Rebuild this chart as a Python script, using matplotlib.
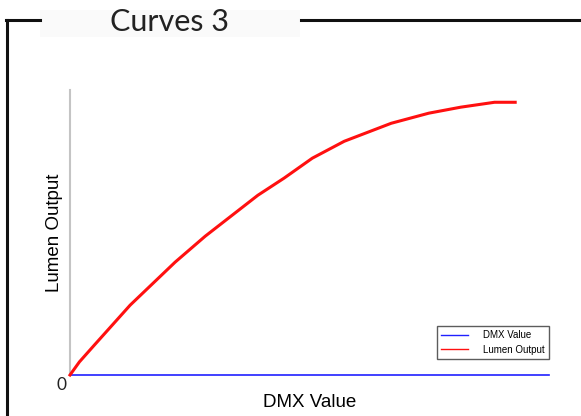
import matplotlib
matplotlib.use("Agg")
import matplotlib.pyplot as plt
from matplotlib.patches import Rectangle
from matplotlib.lines import Line2D

# data (DMX 0-255, lumen output in %)
dmx_axis = [0, 255]
dmx_line = [0, 0]
lumen_x = [0, 5, 13, 32, 56, 72, 100, 114, 129, 146, 171, 191, 208, 226, 237]
lumen_y = [0, 4.8, 11, 25.6, 41.4, 50.9, 65.9, 72.2, 79.5, 85.7, 92.3, 96, 98.2, 100, 100]

title = "Curves 3"

fig = plt.figure(figsize=(5.81, 4.16), dpi=100)
W, H = 581, 416

def fx(px): return px / W
def fy(py): return 1 - py / H

# frame around the slide
fig.add_artist(Line2D([fx(7), fx(7)], [fy(20), fy(420)], color='#111111', lw=2.2))
fig.add_artist(Line2D([fx(6), fx(40)], [fy(20), fy(20)], color='#111111', lw=2.2))
fig.add_artist(Line2D([fx(301), fx(581)], [fy(20), fy(20)], color='#111111', lw=2.2))
fig.add_artist(Rectangle((fx(40), fy(37)), fx(260), 27 / H, facecolor='#fafafa', edgecolor='none'))
fig.text(fx(169), fy(22), title, ha='center', va='center', fontsize=22, family='Lato',
         color='#222222')

ax = fig.add_axes([fx(70), fy(375), fx(549) - fx(70), (375 - 90) / H])
ax.plot(dmx_axis, dmx_line, color='#2020ff', lw=1.2, label='DMX Value', clip_on=False, zorder=3)
ax.plot(lumen_x, lumen_y, color='#ff1010', lw=2.2, label='Lumen Output', clip_on=False, zorder=4)
ax.set_xlim(0, 255)
ax.set_ylim(0, 104.5)
for s in ['top', 'right', 'bottom']:
    ax.spines[s].set_visible(False)
ax.spines['left'].set_color('#c4c4c4')
ax.spines['left'].set_linewidth(1.5)
ax.set_xticks([])
ax.set_yticks([])

ax.set_xlabel('DMX Value', family='Liberation Sans', fontsize=13.5, labelpad=14)
ax.set_ylabel('Lumen Output', family='Liberation Sans', fontsize=13.5, labelpad=5)
ax.text(-0.018, -0.035, '0', transform=ax.transAxes, ha='center', va='center',
        fontsize=12.5, family='Lato', color='#222222')

leg = ax.legend(loc='lower right', bbox_to_anchor=(fx(549), fy(359)), bbox_transform=fig.transFigure,
                prop={'family': 'Liberation Sans', 'size': 7}, frameon=True, fancybox=False,
                handlelength=2.8, handletextpad=1.5, borderpad=0.45, labelspacing=0.45,
                borderaxespad=0)
leg.get_frame().set_edgecolor('#333333')
leg.get_frame().set_linewidth(1.0)
for l in leg.get_lines():
    l.set_linewidth(1.0)

fig.savefig('out.png', dpi=100)
